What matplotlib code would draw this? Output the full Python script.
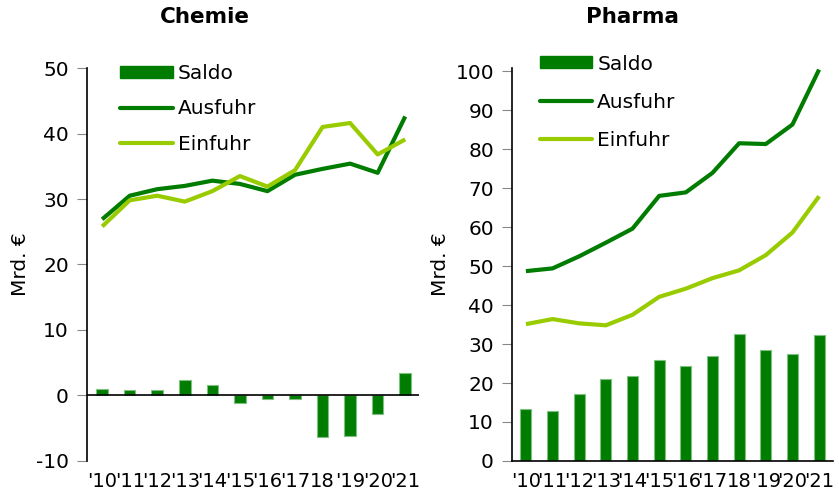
import matplotlib
matplotlib.use('Agg')
from matplotlib import pyplot as plt
from matplotlib.patches import Patch
from matplotlib.lines import Line2D

# Data
years = ["'10", "'11", "'12", "'13", "'14", "'15", "'16", "'17", "18", "'19", "'20", "'21"]

chemie_saldo = [1.0, 0.8, 0.9, 2.3, 1.6, -1.2, -0.6, -0.6, -6.4, -6.2, -2.8, 3.5]
chemie_ausfuhr = [26.9, 30.5, 31.5, 32.0, 32.8, 32.3, 31.2, 33.7, 34.6, 35.4, 34.0, 42.6]
chemie_einfuhr = [25.8, 29.8, 30.5, 29.6, 31.2, 33.5, 31.9, 34.4, 41.0, 41.6, 36.8, 39.1]

pharma_saldo = [13.4, 12.8, 17.2, 21.0, 21.9, 25.8, 24.4, 26.8, 32.5, 28.5, 27.4, 32.3]
pharma_ausfuhr = [48.7, 49.4, 52.5, 56.0, 59.6, 68.0, 68.9, 73.9, 81.5, 81.3, 86.3, 100.4]
pharma_einfuhr = [35.1, 36.4, 35.3, 34.8, 37.5, 42.1, 44.2, 46.9, 48.9, 52.8, 58.6, 67.9]

# Styles
DARK = '#007D00'
LIGHT = '#99CC00'
EDGE = '#7FBF7F'
FS = 14.5

plt.rcParams['font.family'] = 'DejaVu Sans'
plt.rcParams['axes.unicode_minus'] = False

fig = plt.figure(figsize=(8.39, 4.99), dpi=100)


def draw_panel(ax, saldo, ausfuhr, einfuhr, ylim, yticks, zero_line,
               leg_anchor, leg_spacing):
    x = list(range(len(years)))
    ax.bar(x, saldo, width=0.42, color=DARK, edgecolor=EDGE, linewidth=0.8,
           zorder=2)
    ax.plot(x, ausfuhr, color=DARK, lw=3, zorder=3, clip_on=False,
            solid_capstyle='butt')
    ax.plot(x, einfuhr, color=LIGHT, lw=3, zorder=3, clip_on=False,
            solid_capstyle='butt')
    ax.set_xlim(-0.55, 11.5)
    ax.set_ylim(*ylim)
    ax.set_yticks(yticks)
    ax.set_xticks(x)
    ax.set_xticklabels(years, fontsize=14)
    ax.tick_params(axis='x', length=0, pad=8)
    ax.tick_params(axis='y', labelsize=FS, length=7, color='#888888',
                   direction='out', pad=6)
    for side in ['top', 'right']:
        ax.spines[side].set_visible(False)
    if zero_line:
        ax.spines['bottom'].set_visible(False)
        ax.axhline(0, color='black', lw=1.2, zorder=4)
    else:
        ax.spines['bottom'].set_linewidth(1.2)
    ax.spines['left'].set_linewidth(1.2)
    ax.set_ylabel('Mrd. €', fontsize=FS, labelpad=4)
    handles = [Patch(facecolor=DARK, edgecolor=DARK),
               Line2D([], [], color=DARK, lw=3, solid_capstyle='round'),
               Line2D([], [], color=LIGHT, lw=3, solid_capstyle='round')]
    ax.legend(handles, ['Saldo', 'Ausfuhr', 'Einfuhr'], loc='upper left',
              bbox_to_anchor=leg_anchor, frameon=False, fontsize=FS,
              handlelength=2.6, handleheight=0.55, handletextpad=0.25,
              labelspacing=leg_spacing, borderpad=0)


ax1 = fig.add_axes([0.1037, 0.0762, 0.3957, 0.7875])
draw_panel(ax1, chemie_saldo, chemie_ausfuhr, chemie_einfuhr,
           (-10, 50), range(-10, 51, 10), True, (0.07, 1.035), 0.8)

ax2 = fig.add_axes([0.6103, 0.0762, 0.3825, 0.7875])
draw_panel(ax2, pharma_saldo, pharma_ausfuhr, pharma_einfuhr,
           (0, 100.8), range(0, 101, 10), False, (0.055, 1.06), 0.95)
ax2.set_xlim(-0.52, 11.52)

fig.text(0.244, 0.965, 'Chemie', ha='center', va='center', fontsize=15.5,
         fontweight='bold')
fig.text(0.754, 0.965, 'Pharma', ha='center', va='center', fontsize=15.5,
         fontweight='bold')

plt.savefig('out.png', dpi=100)
